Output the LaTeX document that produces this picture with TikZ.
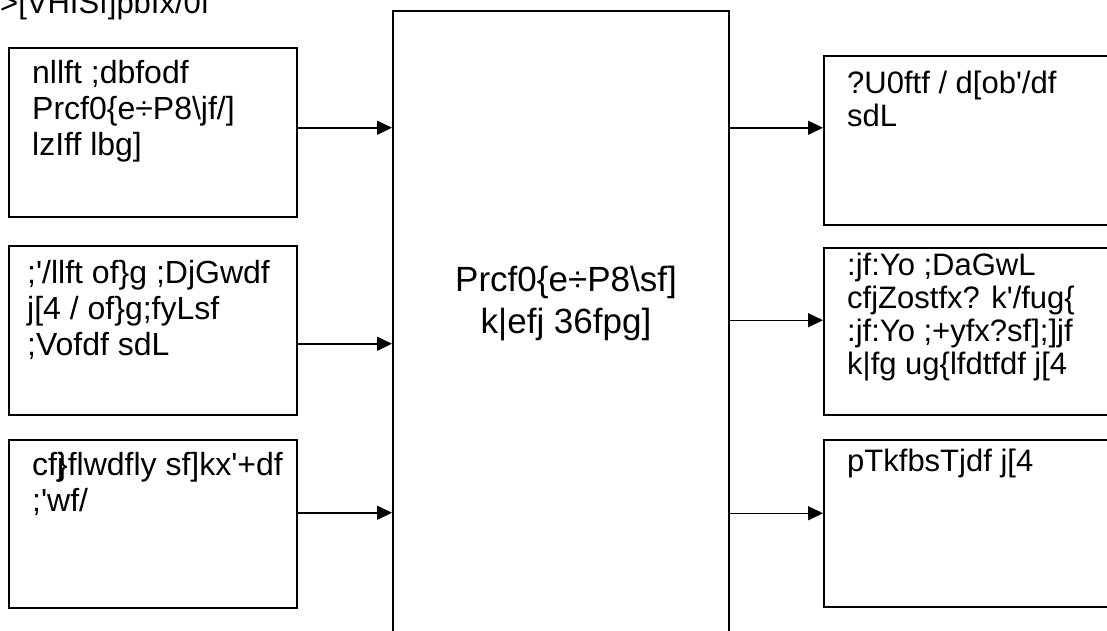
\documentclass[tikz,border=0pt]{standalone}
\usepackage{fontspec}
\setmainfont{Liberation Sans}
\usetikzlibrary{arrows.meta}
\tikzset{
  box/.style={draw, line width=1.5pt, rectangle, inner sep=0pt, anchor=north west},
  lbl/.style={anchor=north west, inner sep=0pt, align=left, font=\fontsize{32}{36}\selectfont},
  rlbl/.style={anchor=north west, inner sep=0pt, align=left, font=\fontsize{31}{33}\selectfont},
  arr/.style={line width=1.5pt, -{Triangle[length=15pt,width=14pt]}}
}
\begin{document}
\begin{tikzpicture}[x=1pt,y=-1pt]
\useasboundingbox (0,0) rectangle (1107,630);
% title
\node[anchor=base west, inner sep=0pt, font=\fontsize{31}{35}\selectfont] (title) at (0,13) {>[VHISf]pbIx/0f};
% left boxes
\node[box, minimum width=288pt, minimum height=169pt] (L1) at (8,47) {};
\node[box, minimum width=288pt, minimum height=169pt] (L2) at (8,245) {};
\node[box, minimum width=288pt, minimum height=168pt] (L3) at (8,439) {};
% centre box
\node[box, minimum width=336pt, minimum height=650pt] (C) at (392,10) {};
% right boxes
\node[box, minimum width=300pt, minimum height=169pt] (R1) at (823,55) {};
\node[box, minimum width=300pt, minimum height=167pt] (R2) at (823,247) {};
\node[box, minimum width=300pt, minimum height=167pt] (R3) at (823,439) {};
% texts
\node[lbl] (t1) at (32,60) {nllft ;dbfodf\\Prcf0\{e÷P8\textbackslash jf/]\\lzIff lbg]};
\node[lbl] (t2) at (27,260) {;\textquotesingle/llft of\}g ;DjGwdf\\j[4 / of\}g;fyLsf\\;Vofdf sdL};
\node[lbl] (t3) at (32,452) {cf\makebox[0pt][l]{j}\}flwdfly sf]kx\textquotesingle+df\\;\textquotesingle wf/};
\node[anchor=north, inner sep=0pt, align=center, font=\fontsize{35}{42}\selectfont] (tc) at (566,266) {Prcf0\{e÷P8\textbackslash sf]\\k|efj 36fpg]};
\node[rlbl] (t4) at (847,71) {?U0ftf / d[ob\textquotesingle/df\\sdL};
\node[rlbl] (t5) at (847,253) {:jf:Yo ;DaGwL\\cfjZostfx? k\textquotesingle/fug\{\\:jf:Yo ;+yfx?sf];]jf\\k|fg ug\{lfdtfdf j[4};
\node[rlbl] (t6) at (847,449) {pTkfbsTjdf j[4};
% arrow anchor points
\path (L1.east) ++(0,-4.5) coordinate (a1);
\path (L2.east) ++(0,13.5) coordinate (a2);
\path (L3.east) ++(0,-11) coordinate (a3);
\path (R1.west) ++(0,-12.5) coordinate (b1);
\path (R2.west) ++(0,-11) coordinate (b2);
\path (R3.west) ++(0,-10) coordinate (b3);
\draw[arr] (a1) -- (a1 -| C.west);
\draw[arr] (a2) -- (a2 -| C.west);
\draw[arr] (a3) -- (a3 -| C.west);
\draw[arr] (b1 -| C.east) -- (b1);
\draw[arr] (b2 -| C.east) -- (b2);
\draw[arr] (b3 -| C.east) -- (b3);
\end{tikzpicture}
\end{document}
